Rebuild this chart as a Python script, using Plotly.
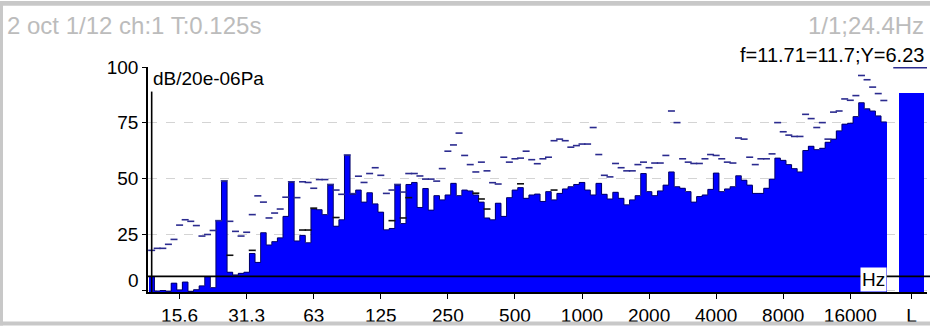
import numpy as np
import plotly.graph_objects as go

# ---------------------------------------------------------------------------
# 1/12-octave band spectrum, dB re 20 uPa.  Band 0 is centred at 11.71 Hz,
# band k is centred at 1000 * 2**((k - 77) / 12) Hz.
# ---------------------------------------------------------------------------
levels = [
    6.2, -0.3, -0.1, -0.4, 3.2, 0.2, 3.7, -0.5, 0.3, 2.0, 6.1, 1.2,
    31.2, 48.7, 8.1, 6.9, 7.6, 8.1, 16.5, 12.5, 25.8, 20.3, 21.8, 23.5,
    33.1, 48.3, 22.1, 24.6, 21.3, 36.4, 36.1, 33.9, 47.1, 28.7, 31.6, 60.4,
    43.0, 44.9, 39.5, 43.7, 38.7, 35.0, 27.1, 27.7, 47.1, 29.9, 47.4, 48.3,
    37.1, 45.6, 35.9, 42.4, 40.5, 42.7, 47.9, 42.4, 44.9, 44.5, 42.7, 39.5,
    32.4, 31.6, 39.0, 33.1, 41.5, 44.9, 46.0, 41.2, 42.7, 43.1, 39.8, 44.2,
    40.5, 43.4, 45.4, 46.4, 47.4, 48.3, 44.9, 42.7, 47.9, 43.0, 40.9, 43.9,
    41.2, 38.3, 40.5, 42.4, 52.3, 44.2, 42.4, 44.5, 47.1, 53.0, 46.4, 45.7,
    44.2, 39.5, 42.0, 42.7, 45.2, 52.5, 44.2, 45.4, 46.4, 51.3, 49.3, 47.1,
    43.4, 43.4, 45.7, 49.8, 59.2, 58.2, 56.3, 54.5, 53.0, 62.6, 64.5, 63.0,
    63.6, 66.3, 67.7, 71.4, 74.4, 74.8, 77.8, 84.0, 81.3, 80.3, 78.1, 75.4,
]

max_levels = [
    17.9, 18.8, 18.8, 20.6, 22.8, 29.2, 31.6, 30.9, 29.0, 24.3, 25.0, 26.8,
    31.2, 49.0, 30.9, 26.4, 24.3, 26.0, 33.9, 42.3, 39.5, 32.4, 34.6, 36.4,
    41.7, 48.6, 41.5, 48.6, 48.3, 45.7, 49.6, 49.6, 47.4, 44.9, 43.0, 60.6,
    43.3, 51.1, 48.3, 52.3, 54.9, 51.5, 43.4, 44.9, 47.4, 44.0, 52.3, 52.3,
    51.2, 49.8, 49.8, 48.9, 54.5, 62.3, 65.1, 70.4, 60.4, 56.3, 53.0, 57.4,
    53.5, 48.2, 47.6, 59.6, 57.4, 58.9, 59.2, 62.3, 58.5, 56.7, 58.9, 59.6,
    67.0, 67.7, 67.0, 64.1, 64.8, 65.5, 65.5, 72.9, 60.8, 51.5, 50.8, 56.8,
    54.9, 53.5, 53.5, 56.3, 57.4, 54.9, 57.0, 57.0, 60.4, 80.3, 75.1, 58.9,
    57.4, 56.8, 56.8, 58.9, 60.8, 60.4, 58.9, 57.4, 57.0, 68.2, 67.7, 59.6,
    56.3, 58.9, 58.9, 61.1, 75.1, 71.0, 69.5, 68.9, 68.9, 78.8, 76.9, 72.9,
    75.1, 67.7, 79.8, 80.3, 85.7, 85.1, 87.2, 96.2, 94.3, 91.0, 88.1, 85.0,
]

# previous-frame levels, shown only where they stand clear of the bars
prev_bands = [14, 18, 27, 28, 29, 33, 43, 45, 46, 58, 59, 60, 66, 72]
prev_levels = [15.7, 17.9, 27.0, 27.0, 36.8, 32.6, 31.2, 32.4, 41.5,
               43.5, 40.9, 36.4, 47.7, 44.9]

overall_label = "L"
overall_level = 88.5
overall_max = 99.7

tick_freqs = [15.625, 31.25, 62.5, 125, 250, 500, 1000, 2000, 4000, 8000, 16000]
tick_text = ["15.6", "31.3", "63", "125", "250", "500", "1000", "2000",
             "4000", "8000", "16000"]

y_tick_vals = [0, 25, 50, 75, 100]

cursor_f = 11.71
cursor_y = 6.23
header_left = "2 oct 1/12 ch:1 T:0.125s"
header_right = "1/1;24.4Hz"
cursor_text = "f=11.71=11.7;Y=6.23"
unit_text = "dB/20e-06Pa"

# ---------------------------------------------------------------------------
# geometry
# ---------------------------------------------------------------------------
W, H = 930, 329
ML, MR, MT, MB = 148, 3, 67, 34
PW, PH = W - ML - MR, H - MT - MB
FLOOR, TOP = -0.75, 100.0
F_REF = 15.625                       # x = octaves above 15.625 Hz
BW = 1.0 / 12.0                      # band width in octaves
X_MIN = -0.471
X_MAX = X_MIN + PW / 67.07           # 67.07 px per octave
L_POS = 10.912                       # slot for the overall level bar
L_WIDTH = 0.373


def oct_pos(f):
    return np.log2(np.asarray(f, dtype=float) / F_REF)


def px_x(px):
    return (px - ML) / PW


def px_y(py):
    return (H - MB - py) / PH


band_idx = np.arange(len(levels))
band_freqs = 1000.0 * 2.0 ** ((band_idx - 77) / 12.0)
band_x = oct_pos(band_freqs)
lv = np.array(levels)

BLUE = "#0000ff"
DASH_BLUE = "#2b2b8f"
GREY_TXT = "#bcbcbc"
FONT = "Liberation Sans, Arial, sans-serif"

fig = go.Figure()

# bars grow from the floor of the axis
fig.add_trace(go.Bar(
    x=band_x, y=lv - FLOOR, base=FLOOR, width=BW,
    marker=dict(color=BLUE, line=dict(width=0)), hoverinfo="skip"))

# dark outline along the top of the spectrum
edges = np.append(band_x - BW / 2, band_x[-1] + BW / 2)
fig.add_trace(go.Scatter(
    x=edges, y=np.append(lv, lv[-1]), mode="lines", line_shape="hv",
    line=dict(color="#00006a", width=1), hoverinfo="skip"))

# max-hold dashes
fig.add_trace(go.Scatter(
    x=band_x, y=max_levels, mode="markers",
    marker=dict(symbol="line-ew", size=5, line=dict(width=1.6, color=DASH_BLUE)),
    hoverinfo="skip"))

# previous-frame dashes
fig.add_trace(go.Scatter(
    x=band_x[prev_bands], y=prev_levels, mode="markers",
    marker=dict(symbol="line-ew", size=5, line=dict(width=1.6, color="#111111")),
    hoverinfo="skip"))

# overall level
fig.add_trace(go.Bar(
    x=[L_POS], y=[overall_level - FLOOR], base=FLOOR, width=L_WIDTH,
    marker=dict(color=BLUE, line=dict(width=0)), hoverinfo="skip"))
fig.add_trace(go.Scatter(
    x=[L_POS], y=[overall_max], mode="markers",
    marker=dict(symbol="line-ew", size=26, line=dict(width=1.6, color=DASH_BLUE)),
    hoverinfo="skip"))

shapes = [
    # cursor
    dict(type="line", xref="paper", yref="y", x0=0, x1=1 + MR / PW,
         y0=cursor_y, y1=cursor_y, line=dict(color="black", width=1.6),
         layer="above"),
    dict(type="line", xref="x", yref="y", x0=float(oct_pos(cursor_f)),
         x1=float(oct_pos(cursor_f)), y0=FLOOR, y1=89.0,
         line=dict(color="black", width=1.6), layer="above"),
    # window frame
    dict(type="rect", xref="paper", yref="paper", x0=px_x(0), x1=px_x(W),
         y0=px_y(5), y1=px_y(0), fillcolor="#c8c8c8", line=dict(width=0)),
    dict(type="rect", xref="paper", yref="paper", x0=px_x(0), x1=px_x(3),
         y0=px_y(H), y1=px_y(0), fillcolor="#c8c8c8", line=dict(width=0)),
    dict(type="rect", xref="paper", yref="paper", x0=px_x(0), x1=px_x(W),
         y0=px_y(H), y1=px_y(325), fillcolor="#c8c8c8", line=dict(width=0)),
]

annotations = [
    dict(text=header_left, xref="paper", yref="paper", x=px_x(5), y=px_y(25),
         xanchor="left", yanchor="middle", showarrow=False,
         font=dict(family=FONT, size=24, color=GREY_TXT)),
    dict(text=header_right, xref="paper", yref="paper", x=px_x(926), y=px_y(25),
         xanchor="right", yanchor="middle", showarrow=False,
         font=dict(family=FONT, size=24, color=GREY_TXT)),
    dict(text=cursor_text, xref="paper", yref="paper", x=px_x(926), y=px_y(55),
         xanchor="right", yanchor="middle", showarrow=False,
         font=dict(family=FONT, size=20, color="black")),
    dict(text=unit_text, xref="paper", yref="paper", x=px_x(151), y=px_y(79),
         xanchor="left", yanchor="middle", showarrow=False,
         font=dict(family=FONT, size=19, color="black")),
    dict(text="Hz", xref="x", yref="y", x=float(edges[-1]), y=FLOOR,
         xanchor="right", yanchor="bottom", showarrow=False, bgcolor="white",
         borderpad=1, font=dict(family=FONT, size=19, color="black")),
    dict(text="0", xref="paper", yref="y", x=0, xshift=-7, y=4.2,
         xanchor="right", yanchor="middle", showarrow=False,
         font=dict(family=FONT, size=19, color="black")),
]

fig.update_layout(
    width=W, height=H, margin=dict(l=ML, r=MR, t=MT, b=MB),
    paper_bgcolor="white", plot_bgcolor="white", showlegend=False,
    bargap=0, barmode="overlay", shapes=shapes, annotations=annotations,
    font=dict(family=FONT, size=19, color="black"),
)

fig.update_xaxes(
    range=[X_MIN, X_MAX], showgrid=False, zeroline=False,
    tickmode="array",
    tickvals=list(oct_pos(tick_freqs)) + [L_POS],
    ticktext=tick_text + [overall_label],
    ticks="outside", ticklen=5, tickwidth=1.2, tickcolor="black",
    showline=True, linecolor="black", linewidth=1.6,
    tickfont=dict(family=FONT, size=19, color="black"),
)
fig.update_yaxes(
    range=[FLOOR, TOP], zeroline=False,
    tickmode="array", tickvals=y_tick_vals,
    ticktext=["" if v == 0 else str(v) for v in y_tick_vals],
    ticks="outside", ticklen=4, tickwidth=1.2, tickcolor="black",
    showline=True, linecolor="black", linewidth=1.6,
    showgrid=True, gridcolor="#d4d4d4", griddash="dash", gridwidth=1,
    tickfont=dict(family=FONT, size=19, color="black"),
)

fig.write_html("out.html")
